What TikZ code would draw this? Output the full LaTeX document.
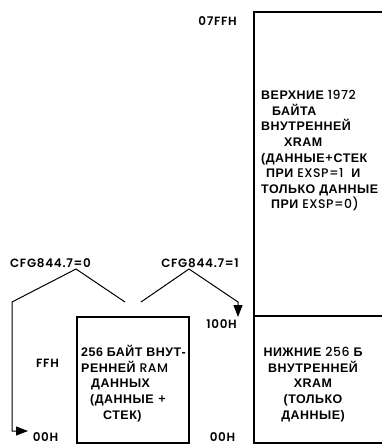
\documentclass[tikz,border=0pt]{standalone}
\usepackage{fontspec}
\setmainfont{Liberation Sans}[LetterSpace=4]
\newfontfamily\lat{Poppins SemiBold}[LetterSpace=6]
\newfontfamily\latr{Poppins Medium}[LetterSpace=4]
\usetikzlibrary{arrows.meta}
\tikzset{
  box/.style={line width=1.2bp},
  conn/.style={line width=1bp},
  arr/.style={conn,-{Triangle[length=12bp,width=9bp]}},
  addr/.style={font=\lat\fontsize{12}{14}\selectfont, inner sep=0pt},
  txt/.style={font=\bfseries\fontsize{12.5}{15.7}\selectfont, inner sep=0pt},
}
\newcommand{\lt}[1]{{\latr\mdseries #1}}
\begin{document}
\begin{tikzpicture}[x=1bp,y=-1bp]
\useasboundingbox (0,0) rectangle (381,446);
% right memory column
\draw[box] (384,12) -- (254,12) -- (254,443) -- (384,443);
\draw[box] (254,316) -- (384,316);
% small box
\draw[box] (77,317) rectangle (189,443);
% addresses
\node[addr, anchor=east] (a07ff) at (237,21) {07FFH};
\node[addr, anchor=east] (a100) at (237,324) {100H};
\node[addr] (aff) at (47.5,363) {FFH};
\node[addr] (a00l) at (45.5,437) {00H};
\node[addr] (a00m) at (222.5,437) {00H};
% configuration labels
\node[addr] (cfg0) at (50.5,263) {CFG844.7=0};
\node[addr] (cfg1) at (200,263) {CFG844.7=1};
% connector points
\coordinate (p0) at (76,269);
\coordinate (p0l) at (12,302);
\coordinate (p0r) at (125,302);
\coordinate (p0d) at (12,431);
\coordinate (t0) at (28,431);
\coordinate (p1) at (189,269);
\coordinate (p1l) at (141,302);
\coordinate (p1r) at (238,302);
\coordinate (t1) at (238,317);
\draw[conn] (p0) -- (p0r);
\draw[arr] (p0) -- (p0l) -- (p0d) -- (t0);
\draw[conn] (p1) -- (p1l);
\draw[arr] (p1) -- (p1r) -- (t1);
% texts
\node[txt, align=left, anchor=north west] (upper) at (261,90) {%
ВЕРХНИЕ \lt{1972}\\
\hspace*{11bp}БАЙТА\\
ВНУТРЕННЕЙ\\
\hspace*{23bp}XRAM\\
(ДАННЫЕ\lt{+}СТЕК\\
\hspace*{5bp}ПРИ \lt{EXSP=1}\hspace{4bp} И\\
ТОЛЬКО ДАННЫЕ\\
\hspace*{10bp}ПРИ \lt{EXSP=0)}};
\node[txt, align=center] (lower) at (313,384.5) {%
НИЖНИЕ \lt{256} Б\\
ВНУТРЕННЕЙ\\
XRAM\\
(ТОЛЬКО\\
ДАННЫЕ)};
\node[txt, align=left, anchor=north west] (small) at (81,345) {%
256 БАЙТ ВНУТ-\\
РЕННЕЙ \lt{RAM}\\
\hspace*{10bp}ДАННЫХ\\
\hspace*{9bp}(ДАННЫЕ \lt{+}\\
\hspace*{22bp}СТЕК)};
\end{tikzpicture}
\end{document}
